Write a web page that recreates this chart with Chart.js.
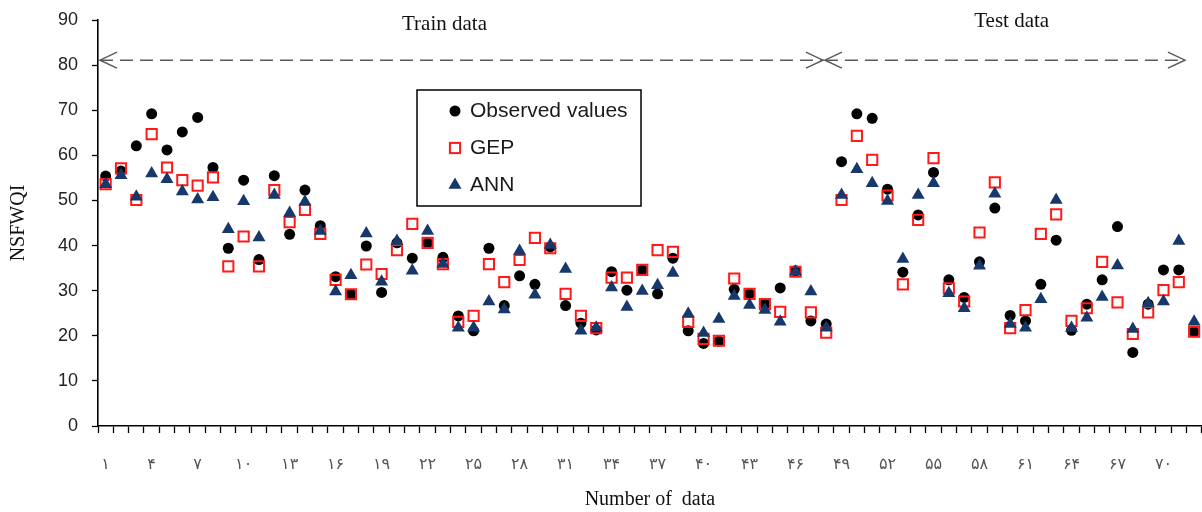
<!DOCTYPE html>
<html>
<head>
<meta charset="utf-8">
<script src="https://cdn.jsdelivr.net/npm/chart.js@4/dist/chart.umd.min.js"></script>
<style>
  html, body { margin: 0; padding: 0; background: #fff; overflow: hidden; }
  #wrap { width: 1211px; height: 512px; position: relative; }
</style>
</head>
<body>
<div id="wrap"><canvas id="chart"></canvas></div>
<script>
// sample numbers 1..72 (Persian digits)
const categories = [
  "۱","۲","۳","۴","۵","۶","۷","۸","۹","۱۰","۱۱","۱۲",
  "۱۳","۱۴","۱۵","۱۶","۱۷","۱۸","۱۹","۲۰","۲۱","۲۲","۲۳","۲۴",
  "۲۵","۲۶","۲۷","۲۸","۲۹","۳۰","۳۱","۳۲","۳۳","۳۴","۳۵","۳۶",
  "۳۷","۳۸","۳۹","۴۰","۴۱","۴۲","۴۳","۴۴","۴۵","۴۶","۴۷","۴۸",
  "۴۹","۵۰","۵۱","۵۲","۵۳","۵۴","۵۵","۵۶","۵۷","۵۸","۵۹","۶۰",
  "۶۱","۶۲","۶۳","۶۴","۶۵","۶۶","۶۷","۶۸","۶۹","۷۰","۷۱","۷۲"
];

const observed = [
  55.4, 56.5, 62.1, 69.2, 61.2, 65.2, 68.4, 57.3, 39.4, 54.5, 36.9, 55.5,
  42.5, 52.3, 44.4, 33.1, 29.2, 39.9, 29.6, 40.6, 37.2, 40.6, 37.4, 24.4,
  21.1, 39.4, 26.7, 33.3, 31.4, 39.7, 26.7, 22.8, 21.3, 34.2, 30.1, 34.6,
  29.3, 37.2, 21.1, 18.3, 18.8, 30.3, 29.3, 27.0, 30.6, 34.4, 23.3, 22.6,
  58.6, 69.2, 68.2, 52.5, 34.1, 46.8, 56.2, 32.4, 28.5, 36.4, 48.3, 24.5,
  23.3, 31.4, 41.2, 21.2, 27.0, 32.4, 44.2, 16.3, 27.0, 34.6, 34.6, 20.9
];

const gep = [
  53.6, 57.1, 50.1, 64.7, 57.3, 54.5, 53.3, 55.1, 35.4, 42.0, 35.4, 52.3,
  45.2, 47.9, 42.6, 32.4, 29.2, 35.8, 33.7, 39.0, 44.8, 40.6, 35.9, 23.1,
  24.4, 35.9, 31.9, 36.8, 41.7, 39.4, 29.3, 24.4, 21.7, 32.9, 32.9, 34.6,
  39.0, 38.6, 23.1, 19.3, 18.9, 32.7, 29.3, 27.0, 25.3, 34.2, 25.2, 20.7,
  50.1, 64.3, 59.0, 51.1, 31.4, 45.7, 59.4, 30.5, 27.6, 42.9, 54.0, 21.7,
  25.7, 42.6, 46.9, 23.3, 26.1, 36.4, 27.4, 20.4, 25.2, 30.1, 31.9, 20.9
];

const ann = [
  53.6, 55.6, 50.8, 56.0, 54.7, 52.0, 50.2, 50.7, 43.6, 49.8, 41.8, 51.2,
  47.2, 49.7, 43.2, 29.8, 33.4, 42.7, 32.0, 41.0, 34.4, 43.2, 35.9, 21.8,
  21.8, 27.6, 25.8, 38.8, 29.1, 40.1, 34.8, 21.1, 21.8, 30.7, 26.4, 29.9,
  31.2, 33.9, 24.9, 20.6, 23.7, 28.8, 26.8, 25.7, 23.1, 34.2, 29.8, 21.8,
  51.2, 56.9, 53.8, 49.9, 37.0, 51.2, 53.8, 29.4, 26.1, 35.5, 51.5, 22.6,
  21.8, 28.1, 50.1, 21.7, 24.0, 28.6, 35.6, 21.5, 27.2, 27.6, 41.0, 23.1
];

const yTicks = [0, 10, 20, 30, 40, 50, 60, 70, 80, 90];

const BLUE = "#17386a";
const SERIF = "'Times New Roman', 'Liberation Serif', 'DejaVu Serif', 'DejaVu Sans', serif";
const SANS = "Arial, 'Liberation Sans', sans-serif";

// dashed train / test arrows, the two captions and the boxed legend
const decorations = {
    id: "decorations",
    afterDraw(chart) {
        const ctx = chart.ctx;
        const x = chart.scales.x;
        const y = chart.scales.y;
        const area = chart.chartArea;

        const yArrow = y.getPixelForValue(81.1);
        const xLeft = area.left + 2;
        const xMid = x.getPixelForValue(46.85);
        const xRight = x.getPixelForValue(70.4);

        ctx.save();
        ctx.strokeStyle = "#5a5a5a";
        ctx.lineWidth = 1.5;

        function dashed(a, b) {
            ctx.setLineDash([13, 7]);
            ctx.beginPath();
            ctx.moveTo(a, yArrow);
            ctx.lineTo(b, yArrow);
            ctx.stroke();
            ctx.setLineDash([]);
        }
        function head(tip, dir) {
            ctx.beginPath();
            ctx.moveTo(tip + dir * 17, yArrow - 8);
            ctx.lineTo(tip, yArrow);
            ctx.lineTo(tip + dir * 17, yArrow + 8);
            ctx.stroke();
        }
        dashed(xLeft, xMid);
        head(xLeft, 1);
        head(xMid - 1, -1);
        dashed(xMid + 1, xRight);
        head(xMid + 1, 1);
        head(xRight, -1);

        ctx.fillStyle = "#111";
        ctx.font = "21px " + SERIF;
        ctx.textAlign = "center";
        ctx.textBaseline = "middle";
        ctx.fillText("Train data", x.getPixelForValue(22.1), y.getPixelForValue(89.0));
        ctx.fillText("Test data", x.getPixelForValue(59.1), y.getPixelForValue(89.6));

        // legend box
        const bx = 417, by = 90, bw = 224, bh = 116;
        ctx.strokeStyle = "#000";
        ctx.lineWidth = 1.5;
        ctx.strokeRect(bx, by, bw, bh);

        ctx.font = "21px " + SANS;
        ctx.textAlign = "left";
        chart.data.datasets.forEach((ds, i) => {
            const cx = bx + 38;
            const cy = by + 21 + i * 37;
            ctx.fillStyle = ds.backgroundColor;
            ctx.strokeStyle = ds.borderColor;
            ctx.lineWidth = ds.borderWidth;
            ctx.beginPath();
            if (ds.pointStyle === "circle") {
                ctx.arc(cx, cy, ds.pointRadius, 0, Math.PI * 2);
                ctx.fill();
            } else if (ds.pointStyle === "rect") {
                const s = ds.pointRadius * Math.SQRT1_2;
                ctx.strokeRect(cx - s, cy - s, 2 * s, 2 * s);
            } else {
                const r = ds.pointRadius;
                ctx.moveTo(cx, cy - r);
                ctx.lineTo(cx + r * 0.866, cy + r / 2);
                ctx.lineTo(cx - r * 0.866, cy + r / 2);
                ctx.closePath();
                ctx.fill();
            }
            ctx.fillStyle = "#1a1a1a";
            ctx.fillText(ds.label, bx + 53, cy);
        });
        ctx.restore();
    }
};

new Chart(document.getElementById("chart"), {
    type: "line",
    data: {
        labels: categories,
        datasets: [
            {
                label: "Observed values",
                data: observed,
                showLine: false,
                pointStyle: "circle",
                pointRadius: 5.5,
                backgroundColor: "#000",
                borderColor: "#000",
                borderWidth: 0,
                order: 3
            },
            {
                label: "GEP",
                data: gep,
                showLine: false,
                pointStyle: "rect",
                pointRadius: 7.2,
                backgroundColor: "rgba(0,0,0,0)",
                borderColor: "#ff1a1a",
                borderWidth: 2,
                order: 2
            },
            {
                label: "ANN",
                data: ann,
                showLine: false,
                pointStyle: "triangle",
                pointRadius: 7.5,
                backgroundColor: BLUE,
                borderColor: BLUE,
                borderWidth: 0,
                order: 1
            }
        ]
    },
    options: {
        responsive: true,
        maintainAspectRatio: false,
        animation: false,
        events: [],
        layout: { padding: { top: 20, right: 0, left: 0, bottom: 0 } },
        plugins: {
            legend: { display: false },
            tooltip: { enabled: false }
        },
        scales: {
            x: {
                offset: true,
                afterFit: (s) => { s.height = 86; s.paddingLeft = 0; s.paddingRight = 0; },
                grid: {
                    drawOnChartArea: false,
                    offset: true,
                    tickLength: 7,
                    color: "#000",
                    tickWidth: 1.3
                },
                border: { color: "#000", width: 1.6 },
                ticks: {
                    autoSkip: false,
                    maxRotation: 0,
                    padding: 22,
                    color: "#555",
                    font: { family: SERIF, size: 16 },
                    callback: (v, i) => (i % 3 === 0 ? categories[i] : "")
                },
                title: {
                    display: true,
                    text: "Number of  data",
                    color: "#111",
                    font: { family: SERIF, size: 20 },
                    padding: { top: 0, bottom: 0 }
                }
            },
            y: {
                min: yTicks[0],
                max: yTicks[yTicks.length - 1],
                afterFit: (s) => { s.width = 98; s.paddingTop = 0; s.paddingBottom = 0; },
                afterBuildTicks: (s) => { s.ticks = yTicks.map((v) => ({ value: v })); },
                grid: {
                    drawOnChartArea: false,
                    tickLength: 6,
                    color: "#000",
                    tickWidth: 1.3
                },
                border: { color: "#000", width: 1.6 },
                ticks: {
                    padding: 14,
                    color: "#222",
                    font: { family: SANS, size: 18 }
                },
                title: {
                    display: true,
                    text: "NSFWQI",
                    color: "#111",
                    font: { family: SERIF, size: 20 },
                    padding: { top: 7, bottom: 0 }
                }
            }
        }
    },
    plugins: [decorations]
});
</script>
</body>
</html>
